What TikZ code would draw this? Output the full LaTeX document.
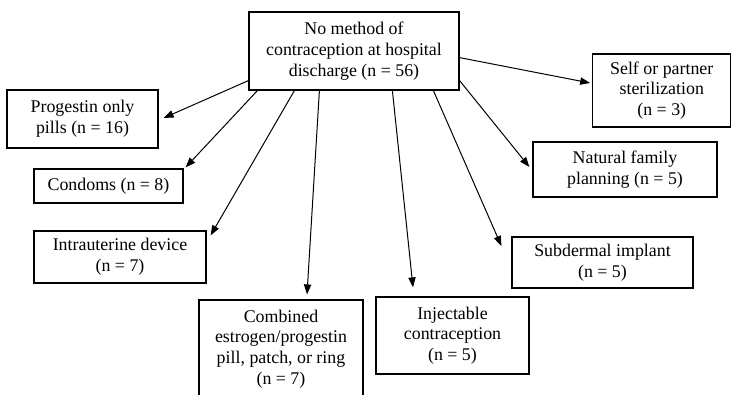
\documentclass[tikz,border=0pt]{standalone}
\usepackage{fontspec}
\setmainfont{Liberation Serif}
\usetikzlibrary{arrows.meta, positioning, calc}

\begin{document}
\begin{tikzpicture}[x=0.75pt, y=-0.75pt,
  box/.style={rectangle, draw, line width=0.9pt, align=center, inner sep=2pt,
              font=\fontsize{13.4}{15.5}\selectfont},
  arrow/.style={-{Triangle[length=7.5pt, width=5.5pt]}, line width=0.75pt}
]
\useasboundingbox (0,0) rectangle (732,394);
\clip (0,0) rectangle (732,394);

\node[box, minimum width=157.5pt, minimum height=58.5pt] at (354,51)
    (nomethod) {No method of\\contraception at hospital\\discharge (n = 56)};

\node[box, minimum width=113.25pt, minimum height=43.5pt] at (82.5,119)
    (progestin) {Progestin only\\pills (n = 16)};
\node[box, minimum width=111.75pt, minimum height=25.5pt] at (108.5,186)
    (condoms) {Condoms (n = 8)};
\node[box, minimum width=129pt, minimum height=39pt] at (120,257)
    (iud) {Intrauterine device\\(n = 7)};
\node[box, minimum width=123pt, minimum height=73.5pt] at (281,349)
    (combined) {Combined\\estrogen/progestin\\pill, patch, or ring\\(n = 7)};
\node[box, minimum width=114.75pt, minimum height=57.75pt] at (452.5,335.5)
    (injectable) {Injectable\\contraception\\(n = 5)};
\node[box, minimum width=135.75pt, minimum height=38.25pt] at (602.5,262.5)
    (implant) {Subdermal implant\\(n = 5)};
\node[box, minimum width=138pt, minimum height=41.25pt] at (625,169.5)
    (natural) {Natural family\\planning (n = 5)};
\node[box, minimum width=103.5pt, minimum height=54.75pt] at (661.75,90.5)
    (sterilization) {Self or partner\\sterilization\\(n = 3)};

% arrows leave the bottom edge of the top box at spread points
\draw[arrow] ($(nomethod.south west)+(0,-10)$) -- ($(progestin.east)+(5,-1)$);
\draw[arrow] ($(nomethod.south west)+(9,0)$) -- ($(condoms.north east)+(2,-1)$);
\draw[arrow] ($(nomethod.south west)+(46,0)$) -- ($(iud.north east)+(4,5)$);
\draw[arrow] ($(nomethod.south west)+(71,0)$) -- ($(combined.north)+(26,-5)$);
\draw[arrow] ($(nomethod.south west)+(144,0)$) -- ($(injectable.north)+(-39.5,-9)$);
\draw[arrow] ($(nomethod.south west)+(185,0)$) -- ($(implant.west)+(-10,-16.5)$);
\draw[arrow] ($(nomethod.south east)+(0,-10)$) -- ($(natural.west)+(-3,-2.5)$);
\draw[arrow] ($(nomethod.south east)+(0,-33)$) -- ($(sterilization.west)+(-2,-7.5)$);
\end{tikzpicture}
\end{document}
